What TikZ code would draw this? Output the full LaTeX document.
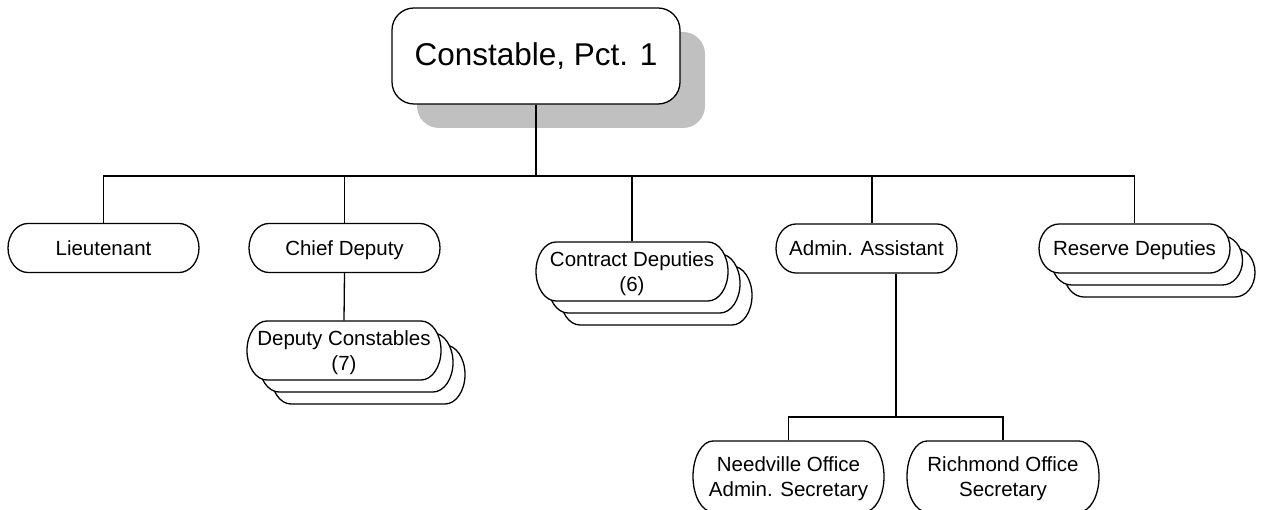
\documentclass[tikz,border=0pt]{standalone}
\usepackage{fontspec}
\setmainfont{Liberation Sans}
\definecolor{shadowgray}{HTML}{C0C0C0}
\newcommand\pillbox[6]{%
  \path[pilloutline] (#2-#4/2+20,#3-#5/2) -- (#2+#4/2-20,#3-#5/2)
    arc[start angle=-90,end angle=90,x radius=20,y radius=#5/2]
    -- (#2-#4/2+20,#3+#5/2)
    arc[start angle=90,end angle=270,x radius=20,y radius=#5/2] -- cycle;
  \node[lbl,minimum width=#4pt,minimum height=#5pt] (#1) at (#2,#3) {#6};}
\begin{document}
\begin{tikzpicture}[x=1pt,y=-1pt,line width=1.3pt,
  pilloutline/.style={draw,fill=white},
  lbl/.style={inner sep=0pt,align=center,text depth=0pt,font=\fontsize{20.5}{24.5}\selectfont},
  bigbox/.style={draw,fill=white,rounded corners=22pt,inner sep=0pt,
    minimum width=288pt,minimum height=96pt,font=\fontsize{31.5}{36}\selectfont}]
\useasboundingbox (0,0) rectangle (1265,510);
% top
\node[bigbox,draw=none,fill=shadowgray] (constshadow) at (561,80) {};
\node[bigbox] (const) at (536,56) {Constable, Pct. 1};
% level 1
\pillbox{lieut}{103.5}{248}{191}{49}{Lieutenant}
\pillbox{chief}{344.5}{248}{191}{49}{Chief Deputy}
\pillbox{cd3}{656}{295.5}{192}{59}{}
\pillbox{cd2}{644}{283.5}{192}{59}{}
\pillbox{contract}{632}{271.5}{192}{59}{Contract Deputies\\(6)}
\pillbox{admin}{866.5}{248.5}{181}{49}{Admin. Assistant}
\pillbox{rd3}{1159.5}{272.5}{191}{49}{}
\pillbox{rd2}{1147}{260.5}{191}{49}{}
\pillbox{reserve}{1134.5}{248.5}{191}{49}{Reserve Deputies}
% level 2
\pillbox{dc3}{368}{374.5}{194}{59}{}
\pillbox{dc2}{356}{362.5}{194}{59}{}
\pillbox{deputy}{344}{350.5}{194}{59}{Deputy Constables\\(7)}
\pillbox{need}{788.5}{476.5}{191}{71}{Needville Office\\Admin. Secretary}
\pillbox{rich}{1003}{476.5}{192}{71}{Richmond Office\\Secretary}
% connectors
\coordinate (bar) at (536,176);
\coordinate (adminin) at (872,176);
\coordinate (adminout) at (896,273);
\coordinate (adrop) at (896,417);
\draw (const.south) -- (bar);
\draw (lieut.north) |- (bar) -| (reserve.north);
\draw (chief.north) -- (chief.north |- bar);
\draw (contract.north) -- (contract.north |- bar);
\draw (adminin |- admin.north) -- (adminin);
\draw (chief.south) -- (deputy.north);
\draw (adminout |- admin.south) -- (adrop);
\draw (need.north) |- (adrop) -| (rich.north);
\end{tikzpicture}
\end{document}
